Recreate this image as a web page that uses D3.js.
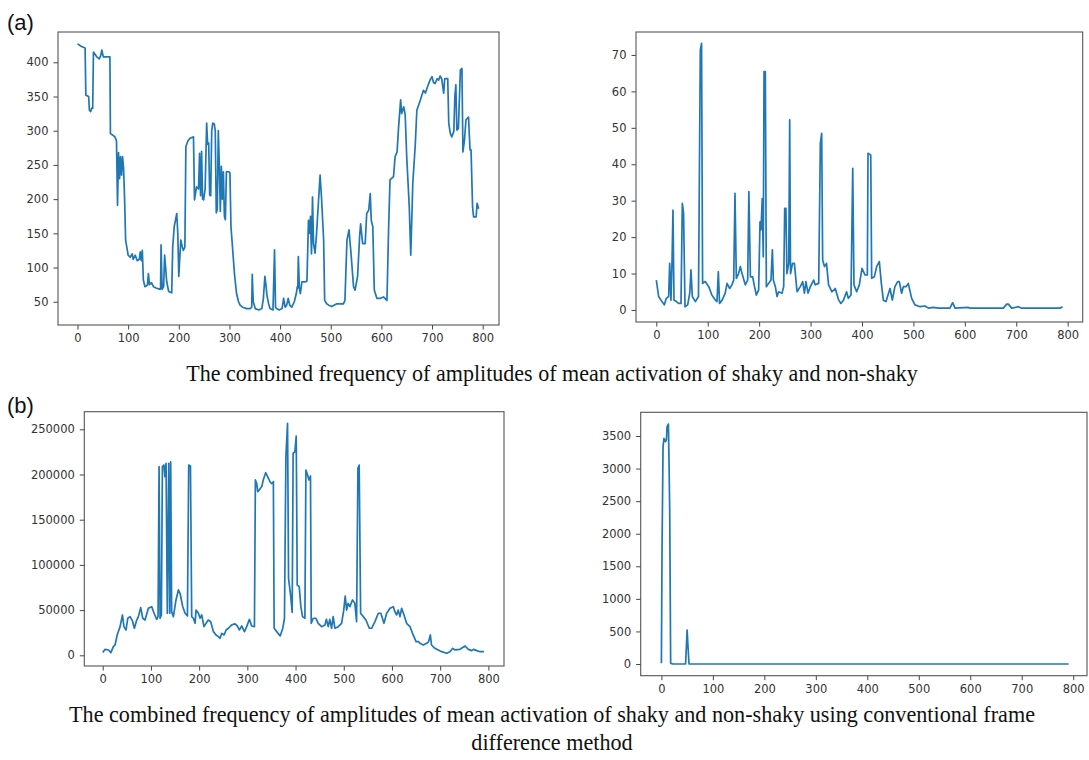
<!DOCTYPE html>
<html><head><meta charset="utf-8">
<script src="https://cdn.jsdelivr.net/npm/d3@7"></script>
<style>body{margin:0;background:#fff;} svg{display:block;}</style>
</head><body>
<svg id="c" width="1089" height="760"></svg>
<script>
// ---------- DATA ----------
const p1X=[0,8,15,16.5,22,23.5,26,28,30,31.5,38,43,46,48,51,64,65,74,77,79,81,83,85,87,89,91,93,95,100,104,108,110,114,118,122,124,126,128,130,133,138,140,142,146,150,155,163,164,165,167,170,172,174,176,180,186,188,191,196,198,200,202,204,207,209,212,214,218,222,229,231,235,239,241,243,245,247,249,252,255,257,259,261,263,265,267,270,272,274,276,278,280,282,284,286,288,290,292,294,299,301,303,306,310,314,318,321,326,334,341,344,345,347,351,358,364,367,370,372,374,377,380,386,389,391,393,398,404,407,410,413,416,419,423,428,432,434,435,436,438,440,443,449,453,456,458,460,462,464,466,469,472,476,479,482,486,488,492,496,502,512,525,528,532,536,540,545,548,553,557,559,563,568,571,575,578,580,583,586,591,598,604,611,614,617,624,627,631,634,638,640,644,647,650,655,658,662,667,670,677,683,687,690,693,696,700,703,706,710,713,716,719,723,725,731,733,736,739,743,745,747,749,752,756,759,761,764,767,772,775,777,780,782,787,789,792];
const p1Y=[427,423,421,352,350,330,328,333,333,415,408,405,410,418,408,408,296,291,285,191,268,230,262,235,262,245,200,140,118,115,120,112,118,110,112,123,110,125,82,72,74,91,75,78,72,70,68,70,133,68,72,118,100,80,65,63,130,160,179,150,87,115,140,130,125,130,277,285,289,291,199,218,215,267,205,270,200,199,215,311,280,282,206,205,300,311,310,300,180,185,300,250,182,248,200,240,175,170,240,240,238,160,130,90,62,50,45,42,40,40,42,90,50,40,38,40,55,87,75,60,48,40,38,126,42,40,38,40,55,42,45,55,45,42,50,62,72,70,116,70,62,79,79,80,169,150,175,120,203,135,121,150,199,235,199,140,52,47,45,43,47,47,52,140,155,121,72,67,87,145,164,135,135,179,184,208,169,160,67,55,55,57,52,150,228,233,262,269,306,345,325,335,323,262,189,118,223,281,330,345,359,355,362,368,374,379,370,369,376,374,380,376,355,376,376,311,296,291,299,350,367,301,303,389,391,269,286,316,320,272,272,189,174,174,194,186];

const p2X=[0,4.5,11,15.5,19.5,24,26,28.5,30.5,32.4,34.4,39,43.5,48,50.6,53,55.8,61,65,67.4,70,76,82,85.6,88,90,95,102,108,115,118,120.6,123,128,134,137.5,142.7,147,150.5,153,155.6,160,163.4,166.7,173,177.7,180,183,187.4,191,194.5,199,201.7,203.6,206,208,209.5,212,214,218.5,223,225.7,227.6,231.5,234.8,238,244.5,247.7,249.7,252,254,257.5,259.4,261,265,268.5,273.7,280,284.7,288,291,295,299.6,306,309,315.8,319,321.6,323.5,327,331,335,341.6,348,354.7,359,364,370,373.4,378.6,382,384.4,389.6,394.8,400,405.8,410.4,411.7,417,418.8,424,428.5,433.7,437.6,441.5,446.7,454.5,459,464,469.4,472.6,477,480.4,485.6,490,496.6,503,512.8,522.5,529,538.7,548.5,571,576.3,581,607,610,675,681.4,684.6,691,704,710.5,785,790];
const p2Y=[8.2,3.7,2.3,1.4,3.2,3.7,12.8,2.7,12.8,27.4,2.7,2.3,1.8,1.8,29.3,26.5,0.9,1.4,4.6,11,3.7,2.3,3.7,71.4,73.2,7.3,7.8,6.4,4.1,2.7,2.3,10.5,1.8,2.7,4.6,7.3,5.9,6.9,8.2,32,8.7,10,11.9,10,6.9,8.2,32.5,9.1,9.1,6.4,4.1,5.5,24.2,22,30.6,14.6,65.4,65.4,6.4,7.3,8.2,16.5,8.2,6.4,3.7,5,4.6,6.4,27.9,27.9,10,12.8,52.2,10,12.8,12.8,5,6.4,7.8,4.6,7.8,4.6,6.4,8.2,6.9,7.3,45.7,48.5,13.7,11.9,12.8,6.9,5,5.9,2.7,1.8,2.7,5,3.2,4.1,38.9,6.9,5,6.9,11.4,9.6,9.6,43,42.5,8.7,9.1,11.9,13.3,7.3,2.7,2.3,5.9,2.7,6.4,7.8,7.8,4.6,6.4,6.4,7.3,3.2,1.4,0.9,1.1,0.5,0.7,0.5,0.5,2,0.5,0.7,0.5,0.5,1.6,1.6,0.5,0.9,0.5,0.5,0.9];

const p3X=[0,5,12,17,22,25.6,30,36,41,44,48.4,52,56.7,61.5,65.7,70.5,74,78.8,83,87.8,94.7,101.7,106.5,112,114.8,116.9,119,121.7,123.8,127,129,131.4,134,137,139,141,143,146.6,152,157,160.4,166,170.8,175.7,178.4,182,184.6,188,191.6,193.6,198.5,202,205.4,210,214.4,219,224,229.6,235,240,243.4,247,251.7,256,260.7,267.6,274.5,279.4,283.5,288.4,294,298.7,304.3,309,314.7,316.7,319.5,321.6,325,330,333,338,342,347,350.6,354,355.6,361,368,373.5,377,380,383.4,385.5,390,393,395,398.6,401.4,403.5,407.6,411,414.5,419.4,421.5,425,427.7,431,432.5,436.7,442,447,454,461,464,467.8,471,474.7,478,481.7,488.6,495.5,500,503,506,509,512.8,518,523,526.6,529.4,532,535,540.5,546,553,557.8,564.7,571.6,577,583.4,589,596,602.8,606,609.7,613,616.6,620,625,630.4,637.4,644,650,654.7,658,665,672,676,679.6,682,689,696,703,713.5,720.4,726,730.8,741,751.6,758.5,765.4,769,776,782.7,791];
const p3Y=[3000,6600,5900,3000,9600,11400,22500,31700,44600,31700,28000,41000,42800,38300,29900,39000,42800,52700,41000,39000,52000,53800,46500,39800,42800,208700,41000,44600,208700,210500,197600,212400,46500,212400,46500,214000,48300,42800,61200,72300,68600,53800,46500,43500,210500,209400,42800,41000,35400,50000,46500,41000,44600,31700,35400,39000,37200,26200,22500,20600,18800,24300,22500,28000,29900,33600,34700,32400,28000,32400,26200,31700,39800,32400,31700,194000,190000,181000,183000,186600,194000,202000,197600,192000,190000,192000,29900,26200,21400,29900,41000,219800,256600,85000,65000,47500,223500,225000,242600,77800,76000,53800,42800,41000,205000,199500,194000,198400,35400,41000,41000,35400,31700,33600,39800,31700,39800,29900,42800,29900,31700,35400,50000,65600,50000,57500,53800,61200,57500,37200,206900,210500,46500,42800,39000,29900,29900,37200,46500,46500,35400,46500,52000,53800,48300,44600,50000,42800,52000,44600,35400,31700,22500,15100,15100,13300,11400,13300,15100,22500,11400,7700,5900,4000,2200,4000,7700,5900,6600,10300,6600,5200,6600,5200,4000,4000];

const p4X=[0,1.3,3.2,5,7.8,9.7,11,13.6,14.9,16.2,18,22.6,47,50,51.7,53.7,791];
const p4Y=[10,1800,3336,3464,3413,3439,3643,3684,3080,2313,10,0,0,522,266,0,0];

const xTickValues=[0,100,200,300,400,500,600,700,800];
const yTicks1=[50,100,150,200,250,300,350,400];
const yTicks2=[0,10,20,30,40,50,60,70];
const yTicks3=[0,50000,100000,150000,200000,250000];
const yTicks4=[0,500,1000,1500,2000,2500,3000,3500];

const caption1="The combined frequency of amplitudes of mean activation of shaky and non-shaky";
const caption2a="The combined frequency of amplitudes of mean activation of shaky and non-shaky using conventional frame";
const caption2b="difference method";
const panelLabelA="(a)";
const panelLabelB="(b)";

// ---------- LAYOUT ----------
const svg=d3.select("#c");
const LINE="#1f77b4";

function panel(o){
  const x=d3.scaleLinear().domain(o.xd).range([o.l,o.r]);
  const y=d3.scaleLinear().domain(o.yd).range([o.b,o.t]);
  const g=svg.append("g");
  const pts=o.xs.map((v,i)=>[v,o.ys[i]]);
  g.append("path").datum(pts)
    .attr("fill","none").attr("stroke",LINE).attr("stroke-width",1.7)
    .attr("stroke-linejoin","round")
    .attr("d",d3.line().x(d=>x(d[0])).y(d=>y(d[1])));
  const ax=g.append("g").attr("transform",`translate(0,${o.b})`)
    .call(d3.axisBottom(x).tickValues(xTickValues).tickSize(4.5).tickPadding(4.5).tickFormat(d3.format("d")));
  const ay=g.append("g").attr("transform",`translate(${o.l},0)`)
    .call(d3.axisLeft(y).tickValues(o.yt).tickSize(4.5).tickPadding(5).tickFormat(d3.format("d")));
  [ax,ay].forEach(a=>{
    a.select(".domain").remove();
    a.selectAll("line").attr("stroke","#444").attr("stroke-width",1);
    a.selectAll("text").attr("fill","#333").style("font-family","'DejaVu Sans'").style("font-size","11.5px");
  });
  g.append("rect").attr("x",o.l).attr("y",o.t).attr("width",o.r-o.l).attr("height",o.b-o.t)
    .attr("fill","none").attr("stroke","#555").attr("stroke-width",1.1);
}

panel({l:58,r:499,t:32,b:325,xd:[-38.5,832.2],yd:[16,444.3],xs:p1X,ys:p1Y,yt:yTicks1});
panel({l:636,r:1082.7,t:32,b:322,xd:[-39.5,829.2],yd:[-3.3,76.3],xs:p2X,ys:p2Y,yt:yTicks2});
panel({l:84.3,r:504,t:411.7,b:666,xd:[-38.2,832.4],yd:[-11836,269469],xs:p3X,ys:p3Y,yt:yTicks3});
panel({l:640.7,r:1087,t:412.3,b:675.7,xd:[-40.2,826.8],yd:[-179.6,3864],xs:p4X,ys:p4Y,yt:yTicks4});

// panel labels
svg.append("text").attr("x",7).attr("y",30).text(panelLabelA)
  .style("font-family","'Liberation Sans',Arial,sans-serif").style("font-size","22px").attr("fill","#111");
svg.append("text").attr("x",7).attr("y",413).text(panelLabelB)
  .style("font-family","'Liberation Sans',Arial,sans-serif").style("font-size","22px").attr("fill","#111");

// captions
function caption(txt,cx,base,target){
  const t=svg.append("text").attr("x",cx).attr("y",base).attr("text-anchor","middle")
    .style("font-family","'Liberation Serif','Times New Roman',serif").style("font-size","20px").attr("fill","#111").text(txt);
  if(target){
    const len=t.node().getComputedTextLength();
    t.style("font-size",(20*target/len).toFixed(2)+"px");
  }
  return t;
}
const c1=caption(caption1,552,381,732);
const c2=caption(caption2a,552,722,966);
caption(caption2b,552,750,null).style("font-size",c2.style("font-size"));
</script>
</body></html>
